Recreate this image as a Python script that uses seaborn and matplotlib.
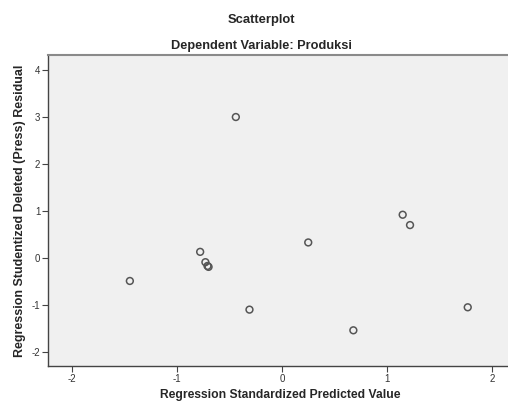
import matplotlib
matplotlib.use("Agg")
import matplotlib.pyplot as plt
import pandas as pd
import seaborn as sns

# Data
pred_std = [-0.44, 1.15, 1.22, 0.25, -0.78, -0.73, -0.71, -0.70, -0.31, 0.68, 1.77, -1.45]
resid_press = [3.00, 0.92, 0.70, 0.33, 0.13, -0.09, -0.17, -0.19, -1.10, -1.54, -1.05, -0.49]
x_ticks = [-2, -1, 0, 1, 2]
y_ticks = [-2, -1, 0, 1, 2, 3, 4]

df = pd.DataFrame({"pred": pred_std, "resid": resid_press})

sns.set_style("white")
plt.rcParams["font.family"] = ["Liberation Sans", "DejaVu Sans"]
plt.rcParams["axes.unicode_minus"] = False

fig = plt.figure(figsize=(5.08, 4.03), dpi=100)
ax = fig.add_axes([0.0945, 0.0918, 0.913, 0.7717])
ax.set_facecolor("#f0f0f0")

sns.scatterplot(
    data=df, x="pred", y="resid", ax=ax,
    marker="o", s=24, facecolor="none", edgecolor="#555555", linewidth=1.1,
)

ax.set_xlim(-2.23, 2.19)
ax.set_ylim(-2.30, 4.32)
ax.set_xticks(x_ticks)
ax.set_yticks(y_ticks)
ax.tick_params(axis="both", direction="out", length=4, width=0.8, color="#444444",
               labelsize=7, labelcolor="#333333", pad=1.5, left=True, bottom=True)

for side in ["left", "bottom"]:
    ax.spines[side].set_color("#444444")
    ax.spines[side].set_linewidth(1.0)
ax.spines["top"].set_color("#8a8a8a")
ax.spines["top"].set_linewidth(1.5)
ax.spines["right"].set_visible(False)

ax.set_xlabel("Regression Standardized Predicted Value", fontsize=8.7, fontweight="bold", labelpad=4)
ax.set_ylabel("Regression Studentized Deleted (Press) Residual", fontsize=9, fontweight="bold", labelpad=4)

fig.text(0.514, 0.95, "Scatterplot", ha="center", va="center", fontsize=9.4, fontweight="bold")
fig.text(0.514, 0.886, "Dependent Variable: Produksi", ha="center", va="center", fontsize=9.2, fontweight="bold")

fig.savefig("out.png", dpi=100)
